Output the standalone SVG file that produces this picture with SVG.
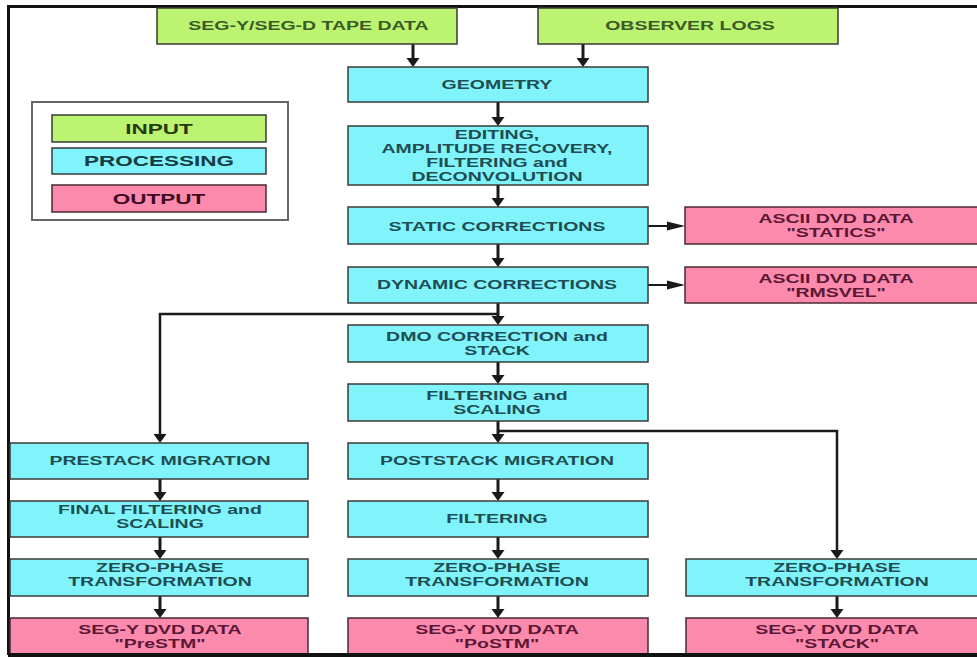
<svg xmlns="http://www.w3.org/2000/svg" width="977" height="657" viewBox="0 0 977 657">
<defs>
<style>
.in{fill:#bcf370;stroke:#3a3a3a;stroke-width:1.5}
.pr{fill:#80f4fa;stroke:#3a3a3a;stroke-width:1.5}
.out{fill:#fb8aac;stroke:#4a2a33;stroke-width:1.5}
text{font-family:"Liberation Sans",Arial,sans-serif;font-weight:bold;font-size:12.5px;text-anchor:middle}
.ti{fill:#3a5a28}
.tp{fill:#1e4d52}
.to{fill:#5c1636}
.lg{font-size:15px}
.cv{fill:none;stroke:#1a1a1a;stroke-width:3}
.ch{fill:none;stroke:#1a1a1a;stroke-width:2}
.cb{fill:none;stroke:#1a1a1a;stroke-width:2.5}
</style>
<marker id="av" markerUnits="userSpaceOnUse" markerWidth="10" markerHeight="13" refX="6" refY="6.5" orient="auto" overflow="visible">
<path d="M0,0 L9,6.5 L0,13 z" fill="#1a1a1a"/>
</marker>
<marker id="ah" markerUnits="userSpaceOnUse" markerWidth="18" markerHeight="9" refX="15" refY="4.5" orient="auto" overflow="visible">
<path d="M0,0 L18,4.5 L0,9 z" fill="#1a1a1a"/>
</marker>
</defs>
<rect x="0" y="0" width="977" height="657" fill="#ffffff"/>
<g id="frame">
<path d="M1000,6.5 H8.5 V655" fill="none" stroke="#111" stroke-width="3"/>
</g>
<g id="legend">
<rect x="32" y="102" width="256" height="118" fill="#fff" stroke="#666" stroke-width="2"/>
<rect class="in" x="52" y="115" width="214" height="27"/>
<text class="lg" fill="#263a10" transform="scale(1.5 1)" x="106" y="134.5">INPUT</text>
<rect class="pr" x="52" y="148" width="214" height="26"/>
<text class="lg" fill="#143c42" transform="scale(1.5 1)" x="106" y="166.5">PROCESSING</text>
<rect class="out" x="52" y="185" width="214" height="27"/>
<text class="lg" fill="#3e0a22" transform="scale(1.5 1)" x="106" y="204">OUTPUT</text>
</g>
<g id="connectors">
<line class="cv" x1="413" y1="44" x2="413" y2="64" marker-end="url(#av)"/>
<line class="cv" x1="583" y1="44" x2="583" y2="64" marker-end="url(#av)"/>
<line class="cv" x1="498" y1="102" x2="498" y2="123" marker-end="url(#av)"/>
<line class="cv" x1="498" y1="185" x2="498" y2="204" marker-end="url(#av)"/>
<line class="cv" x1="498" y1="244" x2="498" y2="264" marker-end="url(#av)"/>
<line class="cv" x1="498" y1="303" x2="498" y2="322" marker-end="url(#av)"/>
<line class="cv" x1="498" y1="362" x2="498" y2="381" marker-end="url(#av)"/>
<line class="cv" x1="498" y1="421" x2="498" y2="440" marker-end="url(#av)"/>
<line class="cv" x1="498" y1="479" x2="498" y2="498" marker-end="url(#av)"/>
<line class="cv" x1="498" y1="537" x2="498" y2="556" marker-end="url(#av)"/>
<line class="cv" x1="498" y1="596" x2="498" y2="615" marker-end="url(#av)"/>
<line class="cv" x1="160" y1="479" x2="160" y2="498" marker-end="url(#av)"/>
<line class="cv" x1="160" y1="537" x2="160" y2="556" marker-end="url(#av)"/>
<line class="cv" x1="160" y1="596" x2="160" y2="615" marker-end="url(#av)"/>
<line class="cv" x1="837" y1="596" x2="837" y2="615" marker-end="url(#av)"/>
<line class="ch" x1="648" y1="226" x2="682" y2="226" marker-end="url(#ah)"/>
<line class="ch" x1="648" y1="285" x2="682" y2="285" marker-end="url(#ah)"/>
<path class="cb" d="M498,314 H160 V440" marker-end="url(#av)"/>
<path class="cb" d="M498,431 H837 V556" marker-end="url(#av)"/>
</g>
<g id="n-tape">
<rect class="in" x="157" y="8" width="300" height="36"/>
<text class="ti" transform="scale(1.56 1)" x="197.76" y="30.5">SEG-Y/SEG-D TAPE DATA</text>
</g>
<g id="n-logs">
<rect class="in" x="538" y="8" width="300" height="36"/>
<text class="ti" transform="scale(1.56 1)" x="442.31" y="30.5">OBSERVER LOGS</text>
</g>
<g id="n-geometry">
<rect class="pr" x="348" y="67" width="300" height="35"/>
<text class="tp" transform="scale(1.56 1)" x="318.59" y="89.5">GEOMETRY</text>
</g>
<g id="n-editing">
<rect class="pr" x="348" y="126" width="300" height="59"/>
<text class="tp" transform="scale(1.56 1)" x="318.59" y="139">EDITING,</text>
<text class="tp" transform="scale(1.56 1)" x="318.59" y="153">AMPLITUDE RECOVERY,</text>
<text class="tp" transform="scale(1.56 1)" x="318.59" y="167">FILTERING and</text>
<text class="tp" transform="scale(1.56 1)" x="318.59" y="181">DECONVOLUTION</text>
</g>
<g id="n-static">
<rect class="pr" x="348" y="207" width="300" height="37"/>
<text class="tp" transform="scale(1.56 1)" x="318.59" y="231">STATIC CORRECTIONS</text>
</g>
<g id="n-statics-out">
<rect class="out" x="685" y="207" width="305" height="37"/>
<text class="to" transform="scale(1.56 1)" x="535.9" y="223.5">ASCII DVD DATA</text>
<text class="to" transform="scale(1.56 1)" x="535.9" y="237.5">"STATICS"</text>
</g>
<g id="n-dynamic">
<rect class="pr" x="348" y="267" width="300" height="36"/>
<text class="tp" transform="scale(1.56 1)" x="318.59" y="289">DYNAMIC CORRECTIONS</text>
</g>
<g id="n-rmsvel">
<rect class="out" x="685" y="267" width="305" height="36"/>
<text class="to" transform="scale(1.56 1)" x="535.9" y="283">ASCII DVD DATA</text>
<text class="to" transform="scale(1.56 1)" x="535.9" y="297">"RMSVEL"</text>
</g>
<g id="n-dmo">
<rect class="pr" x="348" y="325" width="300" height="37"/>
<text class="tp" transform="scale(1.56 1)" x="318.59" y="341.5">DMO CORRECTION and</text>
<text class="tp" transform="scale(1.56 1)" x="318.59" y="355.5">STACK</text>
</g>
<g id="n-filtscale">
<rect class="pr" x="348" y="384" width="300" height="37"/>
<text class="tp" transform="scale(1.56 1)" x="318.59" y="400.5">FILTERING and</text>
<text class="tp" transform="scale(1.56 1)" x="318.59" y="414.5">SCALING</text>
</g>
<g id="n-prestack">
<rect class="pr" x="10" y="443" width="298" height="36"/>
<text class="tp" transform="scale(1.56 1)" x="102.56" y="465">PRESTACK MIGRATION</text>
</g>
<g id="n-finalfilt">
<rect class="pr" x="10" y="501" width="298" height="36"/>
<text class="tp" transform="scale(1.56 1)" x="102.56" y="514.5">FINAL FILTERING and</text>
<text class="tp" transform="scale(1.56 1)" x="102.56" y="528.5">SCALING</text>
</g>
<g id="n-zp-left">
<rect class="pr" x="10" y="559" width="298" height="37"/>
<text class="tp" transform="scale(1.56 1)" x="102.56" y="572.5">ZERO-PHASE</text>
<text class="tp" transform="scale(1.56 1)" x="102.56" y="586.5">TRANSFORMATION</text>
</g>
<g id="n-prestm">
<rect class="out" x="10" y="618" width="298" height="40"/>
<text class="to" transform="scale(1.56 1)" x="102.56" y="634.5">SEG-Y DVD DATA</text>
<text class="to" transform="scale(1.56 1)" x="102.56" y="648.5">"PreSTM"</text>
</g>
<g id="n-poststack">
<rect class="pr" x="348" y="443" width="300" height="36"/>
<text class="tp" transform="scale(1.56 1)" x="318.59" y="465">POSTSTACK MIGRATION</text>
</g>
<g id="n-filtering">
<rect class="pr" x="348" y="501" width="300" height="36"/>
<text class="tp" transform="scale(1.56 1)" x="318.59" y="523.5">FILTERING</text>
</g>
<g id="n-zp-mid">
<rect class="pr" x="348" y="559" width="300" height="37"/>
<text class="tp" transform="scale(1.56 1)" x="318.59" y="572.5">ZERO-PHASE</text>
<text class="tp" transform="scale(1.56 1)" x="318.59" y="586.5">TRANSFORMATION</text>
</g>
<g id="n-postm">
<rect class="out" x="348" y="618" width="300" height="40"/>
<text class="to" transform="scale(1.56 1)" x="318.59" y="634.5">SEG-Y DVD DATA</text>
<text class="to" transform="scale(1.56 1)" x="318.59" y="648.5">"PoSTM"</text>
</g>
<g id="n-zp-right">
<rect class="pr" x="686" y="559" width="304" height="37"/>
<text class="tp" transform="scale(1.56 1)" x="536.54" y="572.5">ZERO-PHASE</text>
<text class="tp" transform="scale(1.56 1)" x="536.54" y="586.5">TRANSFORMATION</text>
</g>
<g id="n-stack">
<rect class="out" x="686" y="618" width="304" height="40"/>
<text class="to" transform="scale(1.56 1)" x="536.54" y="634.5">SEG-Y DVD DATA</text>
<text class="to" transform="scale(1.56 1)" x="536.54" y="648.5">"STACK"</text>
</g>
<line id="frame-bottom" x1="8" y1="655" x2="977" y2="655" stroke="#111" stroke-width="4"/>
</svg>
